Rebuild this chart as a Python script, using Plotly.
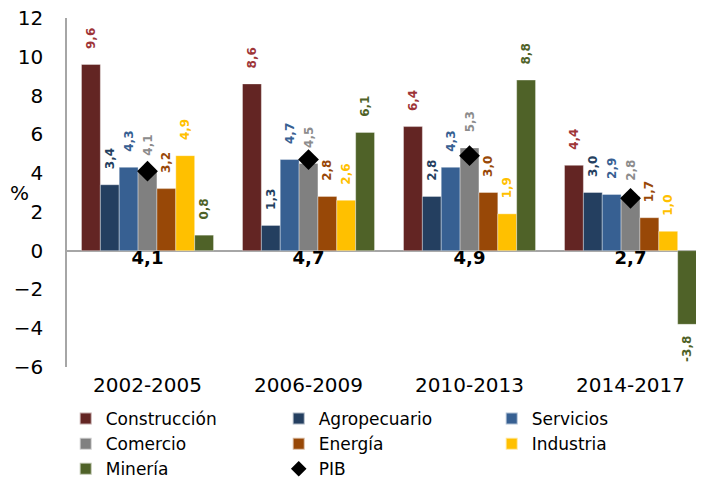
import plotly.graph_objects as go

periods = ['2002-2005', '2006-2009', '2010-2013', '2014-2017']

sectors = ['Construcción', 'Agropecuario', 'Servicios', 'Comercio', 'Energía', 'Industria', 'Minería']
construccion = [9.6, 8.6, 6.4, 4.4]
agropecuario = [3.4, 1.3, 2.8, 3.0]
servicios = [4.3, 4.7, 4.3, 2.9]
comercio = [4.1, 4.5, 5.3, 2.8]
energia = [3.2, 2.8, 3.0, 1.7]
industria = [4.9, 2.6, 1.9, 1.0]
mineria = [0.8, 6.1, 8.8, -3.8]
pib = [4.1, 4.7, 4.9, 2.7]

bar_colors = ['#632523', '#243F60', '#376092', '#808080', '#984807', '#FFC000', '#4F6228']
label_colors = ['#9E3538', '#243F60', '#376092', '#8C8C8C', '#984807', '#FFC000', '#4F6228']

font = 'DejaVu Sans, Arial, sans-serif'


def fmt(v):
  s = f'{v:.1f}'.replace('.', ',')
  if v >= 0:
    return '\u00a0\u00a0\u00a0' + s
  return s + '\u00a0\u00a0'


fig = go.Figure()

series = [construccion, agropecuario, servicios, comercio, energia, industria, mineria]
for name, vals, c, lc in zip(sectors, series, bar_colors, label_colors):
  fig.add_trace(go.Bar(
    x=periods, y=vals, name=name,
    marker=dict(color=c, line=dict(color='rgba(255,255,255,0.6)', width=0.6)),
    text=[fmt(v) for v in vals], textposition='outside', textangle=-90,
    textfont=dict(family=font, size=12, color=lc, weight='bold'),
    cliponaxis=False, constraintext='none'))

fig.add_trace(go.Scatter(
  x=periods, y=pib, name='PIB', mode='markers',
  marker=dict(symbol='diamond', size=16, color='black')))

fig.add_trace(go.Scatter(
  x=periods, y=[0] * len(pib), mode='text', showlegend=False,
  text=[f'{v:.1f}'.replace('.', ',') for v in pib], textposition='bottom center',
  textfont=dict(family=font, size=18, color='black', weight='bold'), cliponaxis=False))

# the page body adds 8px on top and left, margins are set to make up for it
fig.update_layout(
  width=704, height=477, autosize=False,
  margin=dict(l=59, r=0, t=10, b=118, autoexpand=False),
  paper_bgcolor='white', plot_bgcolor='white',
  font=dict(family=font, size=20, color='black'),
  barmode='group', bargap=0.18, bargroupgap=0,
  legend=dict(orientation='h', xref='container', yref='container',
              x=0.082, xanchor='left', y=0.176, yanchor='top',
              entrywidth=168, entrywidthmode='pixels', itemsizing='constant',
              font=dict(size=17), tracegroupgap=0),
  showlegend=True,
)
fig.update_yaxes(range=[-6, 12], tickvals=list(range(-6, 13, 2)), showgrid=False,
                 showline=True, linecolor='#A6A6A6', linewidth=1.5,
                 zeroline=True, zerolinecolor='#A6A6A6', zerolinewidth=1.5,
                 tickfont=dict(size=20), ticks='', ticklabelstandoff=18,
                 ticklabeloverflow='allow')
fig.update_xaxes(range=[-0.5, 3.506], showgrid=False, showline=False, ticks='',
                 tickfont=dict(size=20), ticklabelstandoff=4)

fig.add_annotation(text='%', xref='paper', yref='paper', x=-0.073, y=0.5,
                   xanchor='center', yanchor='middle', showarrow=False, font=dict(size=20))

fig.write_html('out.html')
